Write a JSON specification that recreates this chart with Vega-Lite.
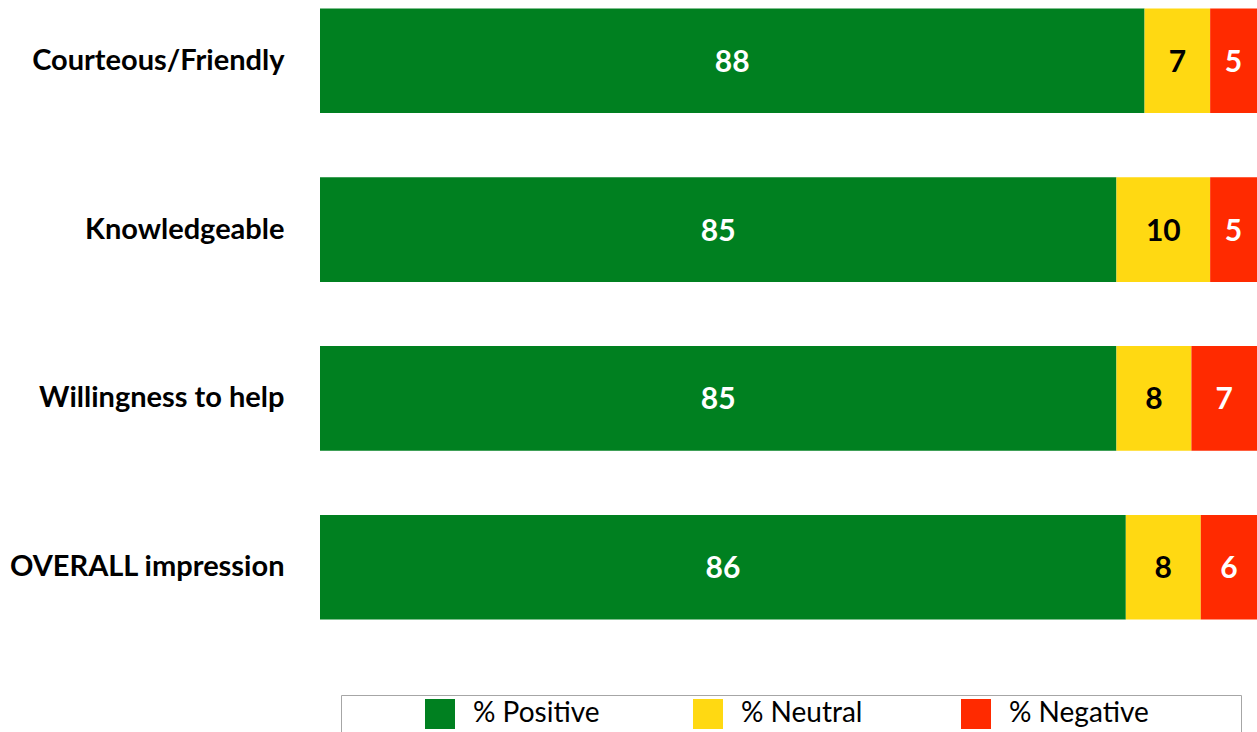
{
  "$schema": "https://vega.github.io/schema/vega-lite/v6.json",
  "width": 937,
  "height": 628,
  "autosize": "none",
  "padding": {"left": 320, "top": 0, "right": 0, "bottom": 104},
  "background": "white",
  "config": {"view": {"stroke": null}, "font": "Lato"},
  "data": {
    "values": [
      {"item": "Courteous/Friendly", "category": "% Positive", "value": 88, "ord": 1},
      {"item": "Courteous/Friendly", "category": "% Neutral", "value": 7, "ord": 2},
      {"item": "Courteous/Friendly", "category": "% Negative", "value": 5, "ord": 3},
      {"item": "Knowledgeable", "category": "% Positive", "value": 85, "ord": 1},
      {"item": "Knowledgeable", "category": "% Neutral", "value": 10, "ord": 2},
      {"item": "Knowledgeable", "category": "% Negative", "value": 5, "ord": 3},
      {"item": "Willingness to help", "category": "% Positive", "value": 85, "ord": 1},
      {"item": "Willingness to help", "category": "% Neutral", "value": 8, "ord": 2},
      {"item": "Willingness to help", "category": "% Negative", "value": 7, "ord": 3},
      {"item": "OVERALL impression", "category": "% Positive", "value": 86, "ord": 1},
      {"item": "OVERALL impression", "category": "% Neutral", "value": 8, "ord": 2},
      {"item": "OVERALL impression", "category": "% Negative", "value": 6, "ord": 3}
    ]
  },
  "transform": [
    {"stack": "value", "groupby": ["item"], "sort": [{"field": "ord"}], "as": ["v0", "v1"]},
    {"calculate": "(datum.v0 + datum.v1) / 2", "as": "mid"}
  ],
  "encoding": {
    "y": {
      "field": "item",
      "type": "nominal",
      "sort": ["Courteous/Friendly", "Knowledgeable", "Willingness to help", "OVERALL impression"],
      "scale": {"paddingInner": 0.38, "paddingOuter": 0.05},
      "axis": {
        "title": null,
        "domain": false,
        "ticks": false,
        "labelFont": "Lato",
        "labelFontSize": 29,
        "labelFontWeight": "bold",
        "labelColor": "black",
        "labelPadding": 36,
        "labelLimit": 400
      }
    }
  },
  "layer": [
    {
      "mark": {"type": "bar"},
      "encoding": {
        "x": {"field": "v0", "type": "quantitative", "scale": {"domain": [0, 100], "nice": false}, "axis": null},
        "x2": {"field": "v1"},
        "color": {
          "field": "category",
          "type": "nominal",
          "scale": {"domain": ["% Positive", "% Neutral", "% Negative"], "range": ["#008020", "#FFD912", "#FF2A00"]},
          "legend": {
            "orient": "none",
            "legendX": 21,
            "legendY": 695,
            "direction": "horizontal",
            "title": "\u00a0",
            "titleOrient": "right",
            "titlePadding": 88,
            "symbolType": "square",
            "symbolSize": 900,
            "symbolStrokeWidth": 0,
            "symbolOpacity": 1,
            "symbolOffset": 80,
            "labelFontSize": 28,
            "labelFont": "Lato",
            "labelColor": "black",
            "labelOffset": 18,
            "strokeColor": "#a6a6a6",
            "fillColor": "white",
            "padding": 4,
            "gridAlign": "all",
            "columnPadding": 0
          }
        }
      }
    },
    {
      "mark": {"type": "text", "fontSize": 30, "fontWeight": "bold", "font": "Lato", "dy": 2},
      "encoding": {
        "x": {"field": "mid", "type": "quantitative"},
        "text": {"field": "value", "type": "quantitative"},
        "color": {"condition": {"test": "datum.category === '% Neutral'", "value": "black"}, "value": "white"}
      }
    }
  ]
}
